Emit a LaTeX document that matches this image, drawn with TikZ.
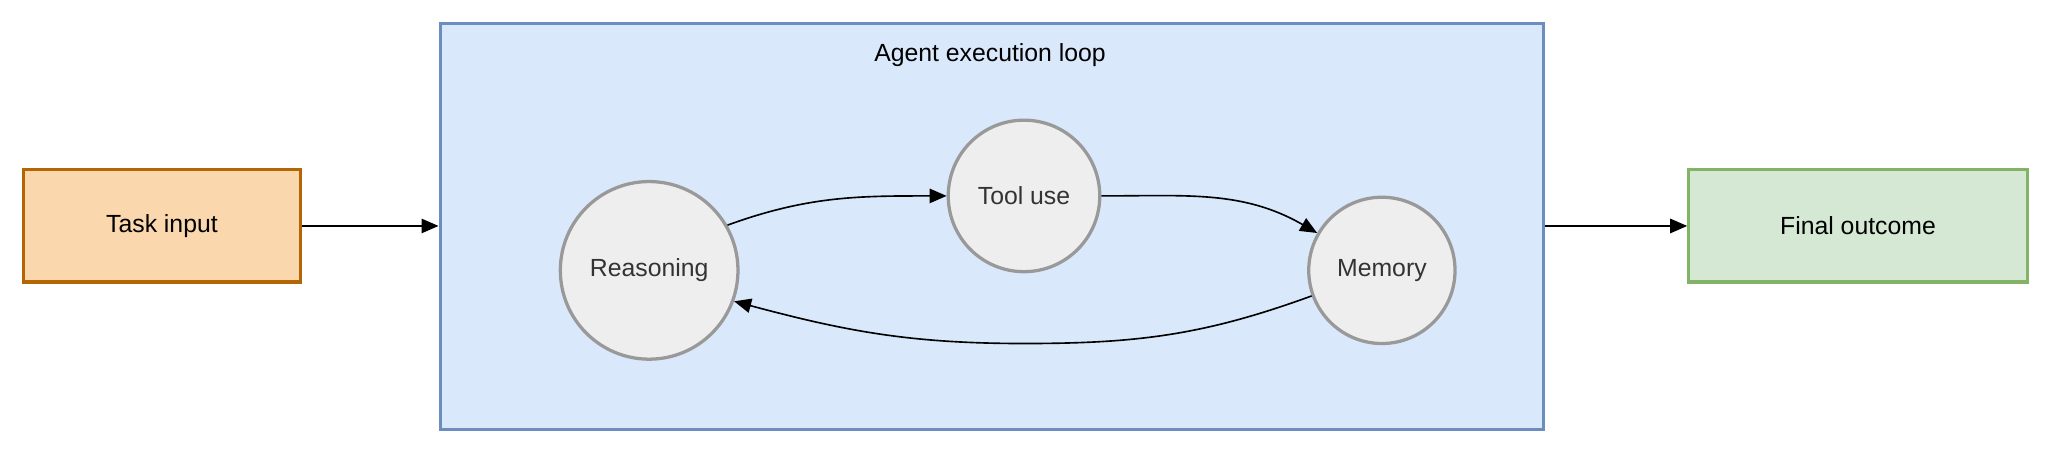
\documentclass[tikz,border=0pt]{standalone}
\usepackage{fontspec}
\setmainfont{Liberation Sans}
\usetikzlibrary{arrows.meta}
\definecolor{inFill}{HTML}{FAD7AC}
\definecolor{inDraw}{HTML}{B46504}
\definecolor{loopFill}{HTML}{DAE8FC}
\definecolor{loopDraw}{HTML}{6C8EBF}
\definecolor{outFill}{HTML}{D5E8D4}
\definecolor{outDraw}{HTML}{82B366}
\definecolor{stepFill}{HTML}{EEEEEE}
\definecolor{stepDraw}{HTML}{999999}
\definecolor{stepText}{HTML}{333333}
\tikzset{
  box/.style={draw,line width=.5mm,minimum width=#1,minimum height=1.72cm,inner sep=0pt},
  step/.style={draw=stepDraw,fill=stepFill,circle,line width=.5mm,text=stepText,minimum size=#1,inner sep=0pt},
  flow/.style={-{Triangle[length=2.6mm,width=2.2mm]},line width=.25mm}
}
\begin{document}
\begin{tikzpicture}[font=\fontsize{10.8}{13}\selectfont]
      \useasboundingbox (0,0) rectangle (31.36,6.92);

      \node[box=4.24cm,fill=inFill,draw=inDraw] (input) at (2.48,3.46) {Task input};
      \node[draw=loopDraw,fill=loopFill,line width=.5mm,minimum width=16.9cm,minimum height=6.22cm,inner sep=0pt] (loop) at (15.19,3.45) {};
      \node (title) at (15.16,6.08) {Agent execution loop};
      \node[box=5.18cm,fill=outFill,draw=outDraw] (output) at (28.45,3.46) {Final outcome};

      \node[step=2.72cm] (reason) at (9.94,2.78) {Reasoning};
      \node[step=2.32cm] (tool) at (15.68,3.92) {Tool use};
      \node[step=2.24cm] (memory) at (21.16,2.78) {Memory};

      \draw[flow] (input) -- (input -| loop.west);
      \draw[flow] (output -| loop.east) -- (output);
      \draw[flow] (reason.30) to[out=20,in=180] (tool.west);
      \draw[flow] (tool.east) to[out=0,in=150] (memory.150);
      \draw[flow] (memory.200) to[out=200,in=0] (15.68,1.66) to[out=180,in=-15] (reason.-20);
    \end{tikzpicture}
\end{document}
